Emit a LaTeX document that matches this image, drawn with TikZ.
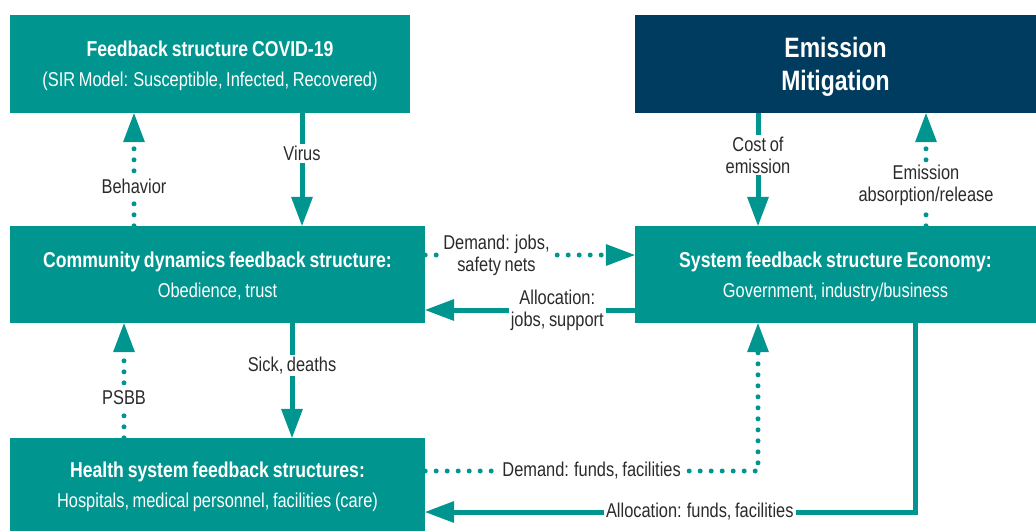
\documentclass[tikz,border=0pt]{standalone}
\usepackage{fontspec}
\setmainfont{Liberation Sans}[FakeStretch=0.82, WordSpace=0.8]
\usetikzlibrary{arrows.meta}
\definecolor{sdteal}{HTML}{00968F}
\definecolor{sdnavy}{HTML}{003C5F}
\definecolor{sdtext}{HTML}{2B2B2B}

\begin{document}
\begin{tikzpicture}[x=1pt, y=-1pt,
  box/.style={fill=sdteal, text=white, inner sep=0pt, align=center,
    text depth=0pt, font=\fontsize{20}{30}\selectfont},
  flow/.style={draw=sdteal, line width=5pt,
    -{Triangle[width=22pt, length=29pt, line width=0pt]}},
  dotflow/.style={draw=sdteal, line width=5pt, line cap=round,
    dash pattern=on 0pt off 11pt,
    -{Triangle[width=22pt, length=29pt, line width=0pt]}},
  lbl/.style={fill=white, text=sdtext, inner sep=2pt, align=center,
    font=\fontsize{20}{22}\selectfont}]
  \useasboundingbox (0,0) rectangle (1036,531);

  % boxes
  \node[box, minimum width=400pt, minimum height=98pt] (covid) at (210,64)
    {{\fontsize{21.5}{30}\selectfont\bfseries Feedback structure COVID-19}\\
     (SIR Model: Susceptible, Infected, Recovered)};
  \node[box, fill=sdnavy, minimum width=401pt, minimum height=98pt,
    font=\fontsize{28}{33}\selectfont\bfseries] (emis) at (835.5,64)
    {Emission\\Mitigation};
  \node[box, minimum width=415pt, minimum height=97pt] (comm) at (217.5,274.5)
    {{\fontsize{21.5}{30}\selectfont\bfseries Community dynamics feedback structure:}\\
     Obedience, trust};
  \node[box, minimum width=401pt, minimum height=97pt] (econ) at (835.5,274.5)
    {{\fontsize{21.5}{30}\selectfont\bfseries System feedback structure Economy:}\\
     Government, industry/business};
  \node[box, minimum width=415pt, minimum height=93pt] (health) at (217.5,484.5)
    {{\fontsize{21.5}{30}\selectfont\bfseries Health system feedback structures:}\\
     Hospitals, medical personnel, facilities (care)};

  % COVID <-> community
  \draw[dotflow] ([xshift=-83.5pt]comm.north) -- ([xshift=-76pt]covid.south)
    node[lbl, pos=0.35] {Behavior};
  \draw[flow] ([xshift=92pt]covid.south) -- ([xshift=84.5pt]comm.north)
    node[lbl, pos=0.36] {Virus};

  % community <-> health
  \draw[dotflow] ([xshift=-93.5pt]health.north) -- ([xshift=-93.5pt]comm.south)
    node[lbl, pos=0.35] {PSBB};
  \draw[flow] ([xshift=74.5pt]comm.south) -- ([xshift=74.5pt]health.north)
    node[lbl, pos=0.37] {Sick, deaths};

  % community <-> economy
  \draw[dotflow] ([yshift=19.5pt]comm.east) -- ([yshift=19.5pt]econ.west)
    node[lbl, pos=0.34] {Demand: jobs,\\safety nets};
  \draw[flow] ([yshift=-35.5pt]econ.west) -- ([yshift=-35.5pt]comm.east)
    node[lbl, pos=0.37] {Allocation:\\jobs, support};

  % economy <-> emission
  \draw[flow] ([xshift=-77.5pt]emis.south) -- ([xshift=-77.5pt]econ.north)
    node[lbl, pos=0.37] {Cost of\\emission};
  \draw[dotflow] ([xshift=90.5pt]econ.north) -- ([xshift=90.5pt]emis.south)
    node[lbl, pos=0.36] {Emission\\absorption/release};

  % health <-> economy
  \draw[dotflow] ([yshift=13.5pt]health.east) -| ([xshift=-77.5pt]econ.south)
    node[lbl, pos=0.25] {Demand: funds, facilities};
  \draw[flow] ([xshift=80pt]econ.south) |- ([yshift=-27.5pt]health.east)
    node[lbl, pos=0.72] {Allocation: funds, facilities};
\end{tikzpicture}
\end{document}
